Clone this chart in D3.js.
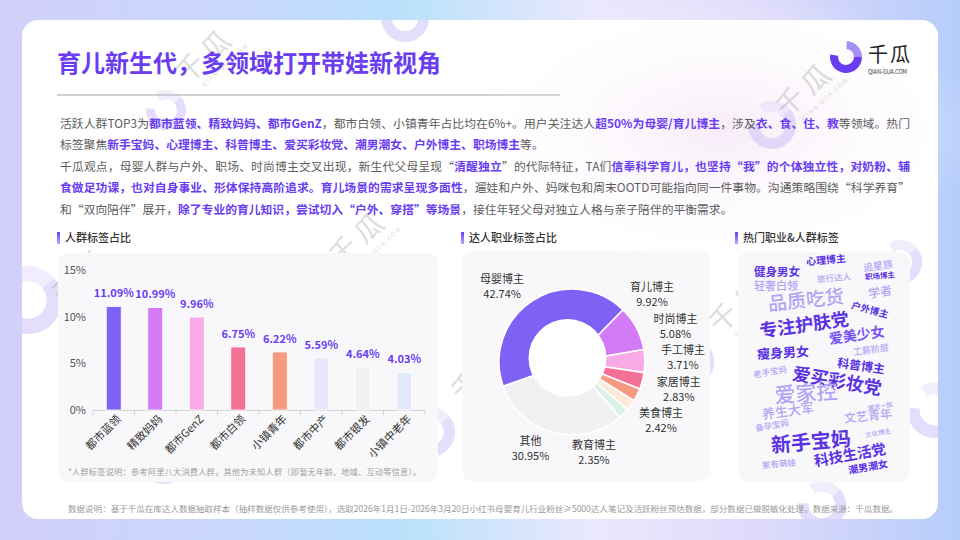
<!DOCTYPE html>
<html><head><meta charset="utf-8">
<script src="https://cdn.jsdelivr.net/npm/d3@7/dist/d3.min.js"></script>
<style>
html,body{margin:0;padding:0;background:#fff;}
svg{display:block;font-family:"Noto Sans CJK SC","Noto Sans",sans-serif;}
</style></head><body>
<svg id="c" width="960" height="540"></svg>
<script>
// ---------------- data ----------------
const titleText = "育儿新生代，多领域打开带娃新视角";
const paraLines = [
  [["活跃人群TOP3为",0],["都市蓝领、精致妈妈、都市GenZ",1],["，都市白领、小镇青年占比均在6%+。用户关注达人",0],["超50%为母婴/育儿博主",1],["，涉及",0],["衣、食、住、教",1],["等领域。热门",0]],
  [["标签聚焦",0],["新手宝妈、心理博主、科普博主、爱买彩妆党、潮男潮女、户外博主、职场博主",1],["等。",0]],
  [["千瓜观点，母婴人群与户外、职场、时尚博主交叉出现，新生代父母呈现“",0],["清醒独立",1],["”的代际特征，TA们",0],["信奉科学育儿，也坚持“我”的个体独立性，对奶粉、辅",1]],
  [["食做足功课，也对自身事业、形体保持高阶追求。育儿场景的需求呈现多面性",1],["，遛娃和户外、妈咪包和周末OOTD可能指向同一件事物。沟通策略围绕“科学养育”",0]],
  [["和“双向陪伴”展开，",0],["除了专业的育儿知识，尝试切入“户外、穿搭”等场景",1],["，接住年轻父母对独立人格与亲子陪伴的平衡需求。",0]]
];
const justifyLines = [true,false,true,true,false];

const sectionTitles = ["人群标签占比","达人职业标签占比","热门职业&人群标签"];

const barCats = ["都市蓝领","精致妈妈","都市GenZ","都市白领","小镇青年","都市中产","都市银发","小镇中老年"];
const barVals = [11.09,10.99,9.96,6.75,6.22,5.59,4.64,4.03];
const barTicks = [0,5,10,15];
const barNote = "*人群标签说明：参考阿里八大消费人群，其他为未知人群（即暂无年龄、地域、互动等信息）。";

const donutCats = ["母婴博主","育儿博主","时尚博主","手工博主","家居博主","美食博主","教育博主","其他"];
const donutVals = [42.74,9.92,5.08,3.71,2.83,2.42,2.35,30.95];

const cloudWords = ["健身男女","心理博主","追星族","旅行达人","职场博主","轻奢白领","学者","品质吃货","户外博主","专注护肤党","爱美少女","瘦身男女","工薪阶层","老手宝妈","科普博主","爱买彩妆党","爱家控","养生大军","文艺青年","潮流一族","备孕宝妈","文化博主","新手宝妈","科技生活党","家有萌娃","潮男潮女"];
const cloudWeights = [11.5,10,10,8.5,7.5,11,12,19,9.5,18,14,13,9,8.5,12,18,21,13,12,6.5,8.5,6.5,20,14.5,8.5,10];

const footerText = "数据说明：基于千瓜在库达人数据抽取样本（抽样数据仅供参考使用），选取2026年1月1日-2026年3月20日小红书母婴育儿行业粉丝≥5000达人笔记及活跃粉丝预估数据，部分数据已做脱敏化处理。数据来源：千瓜数据。";

// ---------------- styles / layout ----------------
const PURPLE = "#6a3df0";
const barColors = ["#8061f6","#d37bf6","#f8aae6","#f47196","#f69a80","#ebe5fd","#f1f1f3","#e1e9fa"];
const donutColors = ["#8061f6","#d47af6","#f8a9e6","#f47196","#f69a80","#feeadb","#d9f3e7","#f1f1f2"];
// word cloud: tone (0 dark,1 mid,2 light), relative spot in panel, rotation
const cloudTone = [0,0,2,2,0,2,2,2,0,0,1,0,2,2,0,0,2,2,2,2,2,2,0,0,2,0];
const cloudSpots = [[0.227,0.087],[0.512,0.035],[0.814,0.061],[0.558,0.113],[0.826,0.104],[0.221,0.148],[0.826,0.174],[0.395,0.209],[0.767,0.252],[0.385,0.317],[0.690,0.362],[0.262,0.439],[0.773,0.426],[0.186,0.522],[0.715,0.496],[0.576,0.561],[0.395,0.615],[0.290,0.692],[0.756,0.713],[0.826,0.672],[0.198,0.755],[0.814,0.787],[0.424,0.826],[0.651,0.883],[0.238,0.922],[0.756,0.935]];
const cloudRot = [0,-5,-8,-5,-5,0,-10,-6,15,-8,-8,-3,-8,-10,8,10,-4,-8,-6,-10,-10,-10,-5,-10,-5,-10];
const toneColor = ["#5b31e4","#7654f2","#b2a4f4"];

const svg = d3.select("#c");
const defs = svg.append("defs");

// background gradient
const bg = defs.append("linearGradient").attr("id","bg").attr("x1","0").attr("x2","1").attr("y1","0").attr("y2","0");
[[0,"#d2d0fa"],[0.25,"#c8d8fb"],[0.42,"#b9e1fb"],[0.62,"#ebe8fc"],[0.8,"#ddd9fb"],[1,"#b5cdfb"]].forEach(s=>bg.append("stop").attr("offset",s[0]).attr("stop-color",s[1]));
const glow = defs.append("radialGradient").attr("id","glow");
glow.append("stop").attr("offset",0).attr("stop-color","#f6e9f8").attr("stop-opacity",0.9);
glow.append("stop").attr("offset",1).attr("stop-color","#ffffff").attr("stop-opacity",0);
const tag = defs.append("linearGradient").attr("id","tag").attr("x1","0").attr("x2","0").attr("y1","0").attr("y2","1");
tag.append("stop").attr("offset",0).attr("stop-color","#6a3df0");
tag.append("stop").attr("offset",1).attr("stop-color","#b9a6fa");
defs.append("clipPath").attr("id","cardClip").append("rect").attr("x",22).attr("y",20).attr("width",916).attr("height",499).attr("rx",16);

svg.append("rect").attr("width",960).attr("height",540).attr("fill","url(#bg)");
svg.append("rect").attr("x",22).attr("y",20).attr("width",916).attr("height",499).attr("rx",16).attr("fill","#fff");
svg.append("ellipse").attr("cx",720).attr("cy",130).attr("rx",260).attr("ry",140).attr("fill","url(#glow)");

// ---------------- watermarks ----------------
const deco = svg.append("g").attr("clip-path","url(#cardClip)");
const ringSpots = [[405,18,24],[166,110,20],[772,125,24],[315,292,24],[688,362,26],[900,262,22],[28,300,34],[163,458,26],[430,432,25],[935,410,28],[822,505,24]];
const markSpots = [[212,62],[88,282],[365,245],[222,418],[487,380],[812,96],[745,312],[870,455]];
const ringArc = d3.arc();
ringSpots.forEach(([cx,cy,r])=>{
  const g = deco.append("g").attr("transform",`translate(${cx},${cy}) rotate(-40)`);
  g.append("path").attr("d",ringArc({innerRadius:r*0.55,outerRadius:r,startAngle:Math.PI/2,endAngle:Math.PI*1.75})).attr("fill","#c9bcf8").attr("opacity",0.5);
  g.append("path").attr("d",ringArc({innerRadius:r*0.55,outerRadius:r,startAngle:0.15,endAngle:Math.PI/2})).attr("fill","#e3dbfc").attr("opacity",0.5);
});
markSpots.forEach(([cx,cy])=>{
  const g = deco.append("g").attr("transform",`translate(${cx},${cy}) rotate(-42)`);
  g.append("text").text("千瓜").attr("text-anchor","middle").attr("font-size",28).attr("letter-spacing",6).attr("fill","#8f8f8f").attr("opacity",0.3);
  g.append("text").text("QIAN-GUA.COM").attr("x",8).attr("y",13).attr("text-anchor","middle").attr("font-size",6).attr("letter-spacing",1.5).attr("fill","#8f8f8f").attr("opacity",0.35);
});

// ---------------- title & logo ----------------
svg.append("text").text(titleText).attr("x",57).attr("y",72).attr("font-size",24).attr("font-weight",700).attr("fill",PURPLE);
svg.append("line").attr("x1",57).attr("x2",560).attr("y1",95).attr("y2",95).attr("stroke","#a8a8a8").attr("stroke-width",1.2);

const logo = svg.append("g").attr("transform","translate(846,57)");
logo.append("path").attr("d",ringArc({innerRadius:8,outerRadius:16,startAngle:Math.PI/2,endAngle:Math.PI*1.55})).attr("fill","#6a3df0");
logo.append("path").attr("d",ringArc({innerRadius:8,outerRadius:16,startAngle:0.05,endAngle:Math.PI/2})).attr("fill","#a690f8");
svg.append("text").text("千瓜").attr("x",868).attr("y",62).attr("font-size",20).attr("letter-spacing",2).attr("fill","#222");
svg.append("text").text("QIAN-GUA.COM").attr("x",868).attr("y",74).attr("font-size",5.6).attr("textLength",39).attr("fill","#333");

// ---------------- paragraph ----------------
const paraY = d3.scaleLinear().domain([0,4]).range([127.5,214]);
paraLines.forEach((segs,i)=>{
  const t = svg.append("text").attr("x",60).attr("y",paraY(i)).attr("font-size",11.8).attr("fill","#5c5c5c");
  segs.forEach(([s,h])=>{
    t.append("tspan").text(s).attr("fill",h?PURPLE:"#5c5c5c").attr("font-weight",h?700:400);
  });
  if(justifyLines[i]){
    const len = t.node().getComputedTextLength();
    const n = segs.map(d=>d[0]).join("").length;
    t.attr("letter-spacing",(850-len)/(n-1));
  }
});

// ---------------- section headers & panels ----------------
const headerX = [57,461,735];
sectionTitles.forEach((s,i)=>{
  svg.append("rect").attr("x",headerX[i]).attr("y",232).attr("width",3).attr("height",12).attr("fill","url(#tag)");
  svg.append("text").text(s).attr("x",headerX[i]+8).attr("y",242).attr("font-size",11).attr("font-weight",500).attr("fill","#333");
});
const panels = [[58,253,380,229],[462,251,248,230],[738,252,172,230]];
panels.forEach(([x,y,w,h])=>svg.append("rect").attr("x",x).attr("y",y).attr("width",w).attr("height",h).attr("rx",10).attr("fill","#f8f8fa"));

// ---------------- bar chart ----------------
const xB = d3.scaleBand().domain(barCats).range([93,425]).paddingInner(0.64).paddingOuter(0.32);
const yB = d3.scaleLinear().domain([0,15]).range([410,270]);
const gB = svg.append("g");
gB.append("g").attr("transform","translate(90,0)")
  .call(d3.axisLeft(yB).tickValues(barTicks).tickFormat(d=>d+"%").tickSize(0).tickPadding(4))
  .call(g=>g.select(".domain").remove())
  .call(g=>g.selectAll("text").attr("font-size",11).attr("fill","#555").attr("font-family","'Noto Sans CJK SC',sans-serif"));
gB.append("g").attr("transform","translate(0,410)")
  .call(d3.axisBottom(xB).tickSize(0).tickFormat(""))
  .call(g=>g.select(".domain").attr("stroke","#d4d4d4"));
const bounds = barCats.map(c=>xB(c)-xB.step()*xB.paddingInner()/2).concat([xB.range()[1]]);
gB.selectAll(".tk").data(bounds).join("line").attr("x1",d=>d).attr("x2",d=>d).attr("y1",410).attr("y2",415).attr("stroke","#d4d4d4");
gB.selectAll(".bar").data(barVals).join("rect")
  .attr("x",(d,i)=>xB(barCats[i])).attr("width",xB.bandwidth())
  .attr("y",d=>yB(d)).attr("height",d=>yB(0)-yB(d))
  .attr("fill",(d,i)=>barColors[i]).attr("stroke","#fff").attr("stroke-width",0.8);
gB.selectAll(".val").data(barVals).join("text")
  .attr("x",(d,i)=>xB(barCats[i])+xB.bandwidth()/2).attr("y",d=>yB(d)-9)
  .attr("text-anchor","middle").attr("font-size",11).attr("font-weight",700).attr("fill",PURPLE)
  .text(d=>d.toFixed(2)+"%");
gB.selectAll(".xl").data(barCats).join("text")
  .attr("transform",c=>`translate(${xB(c)+xB.bandwidth()/2+5},417) rotate(-45)`)
  .attr("text-anchor","end").attr("dy","0.35em").attr("font-size",11).attr("fill","#333").text(c=>c);
svg.append("text").text(barNote).attr("x",68).attr("y",475).attr("font-size",8.2).attr("textLength",353).attr("fill","#a0a0a0");

// ---------------- donut ----------------
const cx = 572, cy = 362;
const start = -109.5*Math.PI/180;
const pie = d3.pie().sort(null).startAngle(start).endAngle(start+2*Math.PI);
const arcs = pie(donutVals);
const arcGen = d3.arc().innerRadius(0).outerRadius(73);
const gD = svg.append("g").attr("transform",`translate(${cx},${cy})`);
gD.selectAll("path").data(arcs).join("path").attr("d",arcGen)
  .attr("fill",(d,i)=>donutColors[i]).attr("stroke","#fff").attr("stroke-width",1.6).attr("stroke-linejoin","round");
gD.append("circle").attr("cx",-4.5).attr("cy",-4).attr("r",39).attr("fill","#fff");

// label layout: anchor on circle R, de-overlap on each side
const R = 89, GAP = 31.5, maxY = 90;
const labs = arcs.map((a,i)=>{const m=(a.startAngle+a.endAngle)/2; return {i, m, right: Math.sin(m)>0, y: -R*Math.cos(m)};});
[true,false].forEach(side=>{
  const L = labs.filter(l=>l.right===side).sort((a,b)=>a.y-b.y);
  for(let k=1;k<L.length;k++) L[k].y = Math.max(L[k].y, L[k-1].y+GAP);
  if(L.length && L[L.length-1].y>maxY){ L[L.length-1].y = maxY; for(let k=L.length-2;k>=0;k--) L[k].y = Math.min(L[k].y, L[k+1].y-GAP); }
});
labs.forEach(l=>{
  const dx = Math.sqrt(Math.max(0,R*R-l.y*l.y));
  const g = gD.append("g");
  const t1 = g.append("text").attr("text-anchor","middle").attr("font-size",11).attr("fill","#333").attr("y",-3.5).text(donutCats[l.i]);
  const t2 = g.append("text").attr("text-anchor","middle").attr("font-size",11).attr("fill","#333").attr("y",11.5).text(donutVals[l.i].toFixed(2)+"%");
  const w = Math.max(t1.node().getComputedTextLength(), t2.node().getComputedTextLength());
  const x = l.right ? dx + w/2 : -dx - w/2;
  g.attr("transform",`translate(${x},${l.y})`);
});

// ---------------- word cloud ----------------
const px = d3.scaleLinear().domain([0,1]).range([738,910]);
const py = d3.scaleLinear().domain([0,1]).range([252,482]);
const fs = d3.scaleLinear().domain([d3.min(cloudWeights),d3.max(cloudWeights)]).range([6.5,21]);
const gC = svg.append("g");
cloudWords.forEach((w,i)=>{
  gC.append("text").text(w)
    .attr("transform",`translate(${px(cloudSpots[i][0])},${py(cloudSpots[i][1])}) rotate(${cloudRot[i]})`)
    .attr("text-anchor","middle").attr("dy","0.35em")
    .attr("font-size",fs(cloudWeights[i]))
    .attr("font-weight",cloudTone[i]===2?500:700)
    .attr("fill",toneColor[cloudTone[i]]);
});

// ---------------- footer ----------------
svg.append("text").text(footerText).attr("x",68).attr("y",512).attr("font-size",8.4).attr("textLength",830).attr("lengthAdjust","spacingAndGlyphs").attr("fill","#9a9a9a");
</script>
</body></html>
